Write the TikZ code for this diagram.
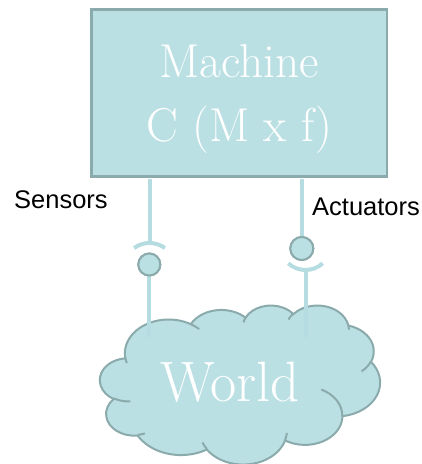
\documentclass[tikz,border=0pt]{standalone}
\usepackage{fontspec}
\setsansfont{Liberation Sans}

\definecolor{tealfill}{HTML}{BBE0E3}
\definecolor{tealedge}{HTML}{8BAAAC}
\definecolor{wirecol}{HTML}{B5DCE0}

% Elliptic arc given by "visual" start/sweep angles: convert them to
% parametric angles for TikZ's arc operation.
\newcommand\ooangles[4]{%
  \pgfmathsetmacro\ooS{atan2((#1)*sin(#3),(#2)*cos(#3))}%
  \pgfmathsetmacro\ooE{atan2((#1)*sin((#3)+(#4)),(#2)*cos((#3)+(#4)))}%
  \pgfmathsetmacro\ooD{mod(\ooE-\ooS+720,360)}%
  \global\let\ooS\ooS
  \global\let\ooD\ooD}
\newcommand\ooarc[4]{\pgfextra{\ooangles{#1}{#2}{#3}{#4}}
  arc[start angle=\ooS, delta angle=\ooD, x radius=#1, y radius=#2]}

\begin{document}
\begin{tikzpicture}[x=1pt,y=1pt,
  box/.style={draw=tealedge, fill=tealfill, line width=2.5pt,
    minimum width=295.5pt, minimum height=167pt, inner sep=0pt},
  boxtext/.style={text=white, font=\fontsize{47.5}{54}\selectfont,
    inner sep=0pt, anchor=base},
  worldtext/.style={text=white, font=\fontsize{57}{62}\selectfont,
    inner sep=0pt, anchor=base},
  ball/.style={circle, draw=tealedge, fill=tealfill, line width=2pt,
    minimum size=22pt, inner sep=0pt},
  wire/.style={draw=wirecol, line width=4pt},
  cloudline/.style={draw=tealedge, line width=2pt},
  sidetext/.style={font=\sffamily\fontsize{25.5}{29}\selectfont,
    inner sep=0pt, anchor=base west}]

\useasboundingbox (0,0) rectangle (422,464);

% the machine
\node[box] (machine) at (239.25,371) {};
\node[boxtext] (mline1) at (239.25,386) {Machine};
\node[boxtext] (mline2) at (239.25,322) {C (M x f)};

% the world: a cloud outline built from elliptic arcs
\begin{scope}[shift={(100,159)}, x=0.64815pt, y=-0.36806pt]
  \draw[cloudline, fill=tealfill] (39,143.70)
    \ooarc{67.53}{91.90}{-190.48748}{123.78053}
    \ooarc{53.33}{72.67}{-144.10238}{89.94523}
    \ooarc{43.65}{59.45}{-145.80792}{99.72302}
    \ooarc{48.57}{65.95}{-130.98607}{117.24173}
    \ooarc{53.33}{72.73}{-78.70888}{109.02692}
    \ooarc{67.75}{92.20}{-46.26725}{130.26900}
    \ooarc{57.85}{78.67}{0.62502}{114.03333}
    \ooarc{67.52}{92.15}{22.45160}{115.17255}
    \ooarc{77.20}{105.43}{66.24263}{75.71102}
    \ooarc{43.60}{59.18}{-274.94208}{146.73557}
    \ooarc{43.45}{59.45}{-246.82850}{152.51885}
    -- cycle;
  % creases between the puffs
  \draw[cloudline]
    (46.93,261.77) \ooarc{43.45}{59.45}{86.74200}{26.42950}
    (69.28,348.99) \ooarc{43.60}{59.18}{73.61047}{11.44747}
    (164.78,390.90) \ooarc{67.52}{92.15}{137.62415}{14.08110}
    (288.27,347.51) \ooarc{67.52}{92.15}{6.45327}{15.99835}
    (341.29,229.54) \ooarc{57.85}{78.67}{-70.29235}{70.91737}
    (417.98,153.54) \ooarc{53.33}{72.73}{30.31803}{27.75150}
    (383.24,54.26) \ooarc{48.57}{65.95}{-13.74433}{14.85890}
    (290.78,39.52) \ooarc{48.57}{65.95}{-149.18145}{18.19537}
    (221.41,47.20) \ooarc{43.65}{59.45}{-163.49427}{17.68635}
    (140.00,51.92) \ooarc{67.53}{91.90}{-66.70695}{12.31935}
    (41.27,157.89) \ooarc{67.53}{91.90}{157.65435}{11.85817};
\end{scope}
\node[worldtext] (world) at (230,62) {World};

% sensor link: socket above a ball
\node[ball] (lball) at (149.3,199.5) {};
\coordinate (lsockc) at (149.5,195);
\coordinate (lsock) at (149.5,221);
\coordinate (lend) at (149.3,127);
\draw[wire] ([yshift=-1.25pt]machine.south -| lsock) -- (lsock);
\draw[wire] ([shift={(53.6:26)}]lsockc) arc[start angle=53.6, end angle=126.4, radius=26];
\draw[wire] (lball.south) -- (lend);
\node[ball] at (lball) {};

% actuator link: ball above a cup
\node[ball, minimum size=23pt] (rball) at (301.8,215.5) {};
\coordinate (rcupc) at (305.5,219.4);
\coordinate (rcup) at (305.5,194);
\coordinate (rend) at (305.5,127);
\draw[wire] ([yshift=-1.25pt]machine.south -| rball) -- (rball.north);
\draw[wire] ([shift={(-132.6:25.4)}]rcupc) arc[start angle=-132.6, end angle=-47.4, radius=25.4];
\draw[wire] (rcup) -- (rend);
\node[ball, minimum size=23pt] at (rball) {};

\node[sidetext] (sensors) at (14,255) {Sensors};
\node[sidetext] (actuators) at (312,248) {Actuators};
\end{tikzpicture}
\end{document}
